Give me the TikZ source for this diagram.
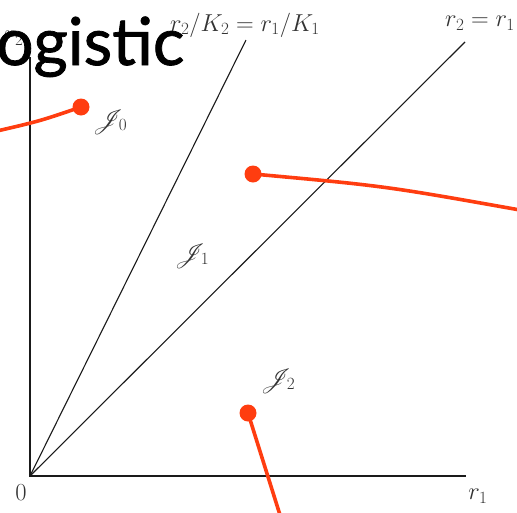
\RequirePackage{fix-cm}
\documentclass[tikz,border=0pt]{standalone}
\usepackage{fontspec}
\usepackage{amsmath}
\usepackage{mathrsfs}
\newfontfamily\bannerfont[FakeBold=1.2]{Lato}
\usetikzlibrary{positioning}
\definecolor{calloutred}{HTML}{FF3D10}
\definecolor{plotink}{HTML}{1A1A1A}
\tikzset{
  axis/.style={line width=1.8pt, color=plotink},
  ray/.style={line width=1.1pt, color=plotink},
  lbl/.style={font=\fontsize{24.5}{28}\selectfont, inner sep=0pt, color=black!80},
  dot/.style={circle, fill=calloutred, inner sep=0pt, minimum size=17pt},
  callout/.style={line width=3.6pt, color=calloutred},
  banner/.style={font=\bannerfont\fontsize{66}{70}\selectfont, inner sep=0pt, anchor=base west},
}

\begin{document}
\begin{tikzpicture}[x=1pt, y=-1pt]
  \useasboundingbox (0,0) rectangle (517,512);
  % axes and the two rays from the origin
  \coordinate (O) at (30,476);
  \coordinate (xend) at (466,476);
  \coordinate (yend) at (30,57);
  \coordinate (steepend) at (246,40);
  \coordinate (diagend) at (465,42);
  \draw[axis] (yend) -- (O) -- (xend);
  \draw[ray] (O) -- (steepend);
  \draw[ray] (O) -- (diagend);
  % labels
  \node[lbl] (zero) at (21,493) {$0$};
  \node[lbl] (rone) at (478,496) {$r_1$};
  \node[lbl] (rtwo) at (14,38) {$r_2$};
  \node[lbl] (steeplbl) at (245,25) {$r_2/K_2 = r_1/K_1$};
  \node[lbl] (diaglbl) at (480,23) {$r_2 = r_1$};
  \node[lbl] (Jzero) at (110,122) {$\mathscr{J}_0$};
  \node[lbl] (Jone) at (192,256) {$\mathscr{J}_1$};
  \node[lbl] (Jtwo) at (278,381) {$\mathscr{J}_2$};
  % callouts
  \coordinate (p0) at (81,107);
  \coordinate (p1) at (253,174);
  \coordinate (p2) at (248,413);
  \coordinate (e0) at (-3,131);
  \coordinate (e1) at (520,210);
  \coordinate (e2) at (280,515);
  \draw[callout] (p0) .. controls (40,121) .. (e0);
  \draw[callout] (p1) .. controls (385,186) .. (e1);
  \draw[callout] (p2) -- (e2);
  \node[dot] (d0) at (p0) {};
  \node[dot] (d1) at (p1) {};
  \node[dot] (d2) at (p2) {};
  \node[banner] (title) at (-4,65) {ogistic};
\end{tikzpicture}
\end{document}
